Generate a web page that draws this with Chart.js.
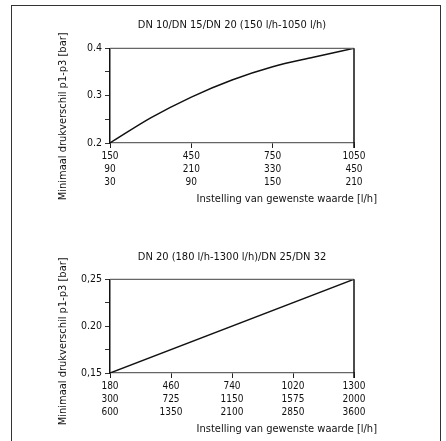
<!DOCTYPE html>
<html>
<head>
<meta charset="utf-8">
<script src="https://cdn.jsdelivr.net/npm/chart.js@4"></script>
<style>
  body { margin: 0; background: #fff; }
  #frame { position: absolute; left: 11px; top: 5px; width: 428px; height: 440px; border: 1px solid #333; border-bottom: none; }
  .box { position: absolute; left: 0; width: 446px; }
</style>
</head>
<body>
<div id="frame"></div>
<div class="box" style="top:0;height:220px"><canvas id="chart1"></canvas></div>
<div class="box" style="top:220px;height:221px"><canvas id="chart2"></canvas></div>
<script>
// chart 1: DN 10/15/20
const flow1 = [150, 300, 450, 600, 750, 900, 1050];
const dp1 = [0.2, 0.253, 0.297, 0.333, 0.361, 0.381, 0.4];
const xTicks1 = [150, 450, 750, 1050];
const xRowB1 = ['90', '210', '330', '450'];
const xRowC1 = ['30', '90', '150', '210'];
const yTicks1 = [0.2, 0.25, 0.3, 0.35, 0.4];
const yLabels1 = ['0.2', '', '0.3', '', '0.4'];

// chart 2: DN 20/25/32
const flow2 = [180, 1300];
const dp2 = [0.15, 0.25];
const xTicks2 = [180, 460, 740, 1020, 1300];
const xRowB2 = ['300', '725', '1150', '1575', '2000'];
const xRowC2 = ['600', '1350', '2100', '2850', '3600'];
const yTicks2 = [0.15, 0.175, 0.2, 0.225, 0.25];
const yLabels2 = ['0,15', '', '0.20', '', '0,25'];

const NARROW = '"Liberation Sans Narrow", "Arial Narrow", "DejaVu Sans Condensed", sans-serif';
const TICKF = '"DejaVu Sans Condensed", "DejaVu Sans", sans-serif';
const X_TITLE = 'Instelling van gewenste waarde [l/h]';
const Y_TITLE = 'Minimaal drukverschil p1-p3 [bar]';

const boxAndTitles = {
    id: 'boxAndTitles',
    afterDraw(chart, args, opts) {
        const { ctx, chartArea: a } = chart;
        ctx.save();
        ctx.strokeStyle = '#666';
        ctx.lineWidth = 1.3;
        ctx.beginPath();
        ctx.moveTo(a.left, a.top);
        ctx.lineTo(a.right, a.top);
        ctx.stroke();
        ctx.strokeStyle = '#111';
        ctx.lineWidth = 1.5;
        ctx.beginPath();
        ctx.moveTo(a.right, a.top);
        ctx.lineTo(a.right, a.bottom + 5);
        ctx.stroke();

        ctx.fillStyle = '#111';
        ctx.font = '11px ' + NARROW;
        ctx.textBaseline = 'middle';
        ctx.textAlign = 'right';
        ctx.fillText(X_TITLE, a.right + 23, a.bottom + opts.xDy);
        ctx.translate(a.left - 47, a.top + opts.yDy);
        ctx.rotate(-Math.PI / 2);
        ctx.textAlign = 'center';
        ctx.fillText(Y_TITLE, 0, 0);
        ctx.restore();
    }
};

function makeChart(id, c) {
    return new Chart(document.getElementById(id), {
        type: 'line',
        data: {
            datasets: [{
                data: c.x.map((v, i) => ({ x: v, y: c.y[i] })),
                borderColor: '#111',
                borderWidth: 1.5,
                pointRadius: 0,
                tension: 0.4,
                cubicInterpolationMode: 'monotone',
                fill: false
            }]
        },
        options: {
            responsive: true,
            maintainAspectRatio: false,
            animation: false,
            layout: { padding: { left: 0, right: 92, top: 0, bottom: 0 } },
            plugins: {
                legend: { display: false },
                tooltip: { enabled: false },
                title: {
                    display: true,
                    text: c.title,
                    fullSize: false,
                    color: '#111',
                    font: { family: NARROW, size: 11, weight: 'normal' },
                    padding: { top: c.titleTop, bottom: c.titleBottom }
                },
                boxAndTitles: { xDy: 56.5, yDy: c.yDy }
            },
            scales: {
                x: {
                    type: 'linear',
                    min: c.xTicks[0],
                    max: c.xTicks[c.xTicks.length - 1],
                    afterFit: s => { s.height = c.xHeight; },
                    afterBuildTicks: s => { s.ticks = c.xTicks.map(v => ({ value: v })); },
                    ticks: {
                        autoSkip: false,
                        maxRotation: 0,
                        padding: 2,
                        color: '#111',
                        font: { family: TICKF, size: 10, lineHeight: 1.3 },
                        callback: (v, i) => [String(c.xTicks[i]), c.rowB[i], c.rowC[i]]
                    },
                    grid: { drawOnChartArea: false, tickLength: 5, color: '#222' },
                    border: { color: '#666', width: 1.3 }
                },
                y: {
                    min: c.yTicks[0],
                    max: c.yTicks[c.yTicks.length - 1],
                    afterFit: s => { s.width = 110; },
                    afterBuildTicks: s => { s.ticks = c.yTicks.map(v => ({ value: v })); },
                    ticks: {
                        padding: 3,
                        color: '#111',
                        font: { family: TICKF, size: 10.5 },
                        callback: (v, i) => c.yLabels[i]
                    },
                    grid: { drawOnChartArea: false, tickLength: 5, color: '#333' },
                    border: { color: '#111', width: 1.5 }
                }
            }
        },
        plugins: [boxAndTitles]
    });
}

makeChart('chart1', {
    title: 'DN 10/DN 15/DN 20 (150 l/h-1050 l/h)',
    x: flow1, y: dp1,
    xTicks: xTicks1, rowB: xRowB1, rowC: xRowC1,
    yTicks: yTicks1, yLabels: yLabels1,
    titleTop: 18.4, titleBottom: 16.7, xHeight: 77, yDy: 68
});

makeChart('chart2', {
    title: 'DN 20 (180 l/h-1300 l/h)/DN 25/DN 32',
    x: flow2, y: dp2,
    xTicks: xTicks2, rowB: xRowB2, rowC: xRowC2,
    yTicks: yTicks2, yLabels: yLabels2,
    titleTop: 30.1, titleBottom: 16, xHeight: 68, yDy: 62
});
</script>
</body>
</html>
